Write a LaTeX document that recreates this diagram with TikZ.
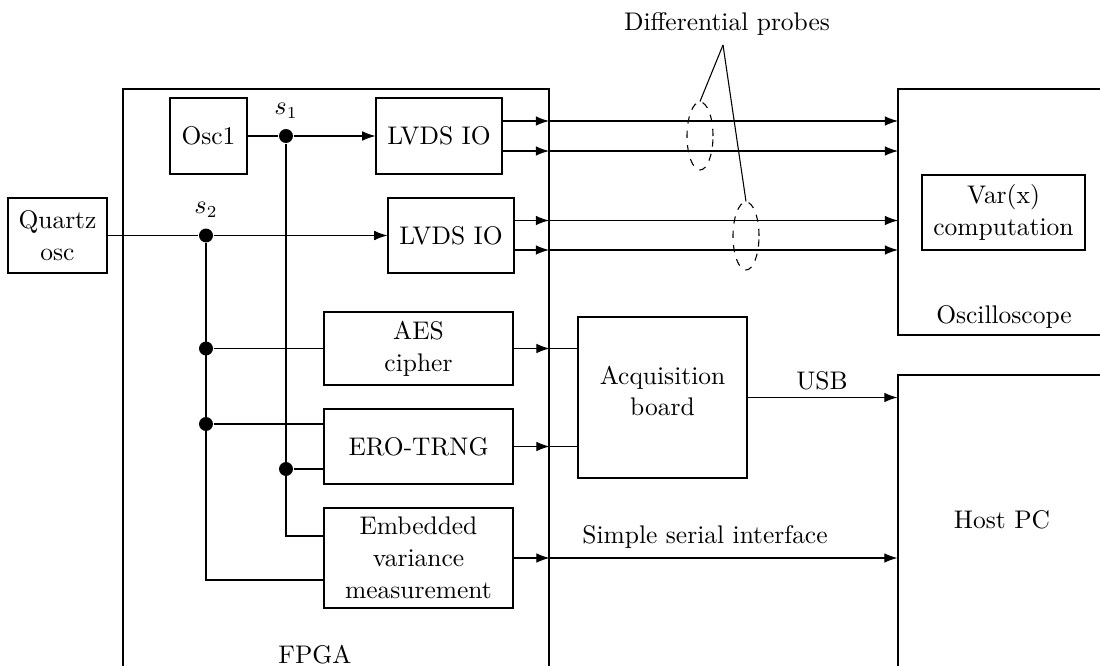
\documentclass[tikz,border=0pt]{standalone}
\usetikzlibrary{arrows.meta,calc,shapes.geometric}
\begin{document}
\begin{tikzpicture}[x=0.416pt,y=-0.416pt,
  line width=0.45pt,
  font=\fontsize{10.6}{13.2}\selectfont,
  box/.style 2 args={draw, align=center, inner sep=0pt,
    minimum width=#1*0.416pt, minimum height=#2*0.416pt},
  lbl/.style={align=center, inner sep=2pt},
  dot/.style={circle, fill=black, inner sep=0pt, minimum size=5.8pt},
  arr/.style={-{Latex[length=5.5pt,width=4pt]}},
  probe/.style={draw, dashed, ellipse, inner sep=0pt,
    minimum width=26*0.416pt, minimum height=68*0.416pt}]
\clip (0,0) rectangle (1100,666);

% big containers
\node[box={426}{640}] (fpga) at (336,409) {};
\node[box={212}{246}] (scope) at (1004,212) {};
\node[box={212}{340}] (host) at (1004,545) {};
\node[lbl] (fpgat) at (315,655) {FPGA};
\node[lbl] (scopet) at (1004,317) {Oscilloscope};
\node[lbl] (hostt) at (1002,520) {Host PC};

% blocks
\node[box={77}{76}] (osc1) at (208.5,136) {Osc1};
\node[box={126}{76}] (lvds1) at (439,136) {LVDS IO};
\node[box={99}{75}] (quartz) at (57.5,235.5) {Quartz\\osc};
\node[box={126}{75}] (lvds2) at (451,235.5) {LVDS IO};
\node[box={189}{73}] (aes) at (418.5,348.5) {AES\\cipher};
\node[box={189}{75}] (ero) at (418.5,446.5) {ERO-TRNG};
\node[box={189}{100}] (emb) at (418.5,558) {Embedded\\variance\\measurement};
\node[box={169}{161}] (acq) at (662.5,397.5) {};
\node[lbl] (acqt) at (662.5,391) {Acquisition\\board};
\node[box={163}{75}] (var) at (1003.5,212.5) {Var(x)\\computation};

% split points
\node[dot] (s1) at (286,136) {};
\node[lbl] (s1t) at (286,111) {$s_1$};
\node[dot] (s2) at (206,235.5) {};
\node[lbl] (s2t) at (206,210) {$s_2$};
\node[dot] (d1) at (206,348.5) {};
\node[dot] (d2) at (206,424) {};
\node[dot] (d3) at (286,469) {};
\coordinate (e1) at (324,536);
\coordinate (e2) at (324,580);

% clock distribution
\draw (osc1.east) -- (s1);
\draw[arr] (s1) -- (lvds1.west);
\draw (quartz.east) -- (s2);
\draw[arr] (s2) -- (lvds2.west);
\draw (s1) |- (e1);
\draw (s2) |- (e2);
\draw (d1) -- (aes.west |- d1);
\draw (d2) -- (ero.west |- d2);
\draw (d3) -- (ero.west |- d3);

% LVDS outputs to oscilloscope
\foreach \y/\n/\src in {121/a/lvds1,151/b/lvds1,220.5/c/lvds2,250/d/lvds2}{
  \coordinate (f\n) at (549,\y);
  \coordinate (o\n) at (898,\y);
  \draw[arr] (\src.east |- f\n) -- (f\n);
  \draw[arr] (f\n) -- (o\n);
}

% AES and ERO to acquisition board
\draw[arr] (aes.east) -- (aes.east -| fpga.east);
\draw (aes.east -| fpga.east) -- (acq.west |- aes.east);
\draw[arr] (ero.east) -- (ero.east -| fpga.east);
\draw (ero.east -| fpga.east) -- (acq.west |- ero.east);

% acquisition board to host
\draw[arr] (acq.east) -- (host.west |- acq.east);
\node[lbl] (usb) at (822,381) {USB};

% embedded measurement to host
\draw[arr] (emb.east) -- (emb.east -| fpga.east);
\draw[arr] (emb.east -| fpga.east) -- (host.west |- emb.east);
\node[lbl] (ser) at (705,537) {Simple serial interface};

% differential probes
\node[probe] (p1) at (700,136) {};
\node[probe] (p2) at (746,236) {};
\node[lbl] (dp) at (727,24) {Differential probes};
\coordinate (apex) at (723,45);
\draw (apex) -- (p1.north);
\draw (apex) -- (p2.north);
\end{tikzpicture}
\end{document}
